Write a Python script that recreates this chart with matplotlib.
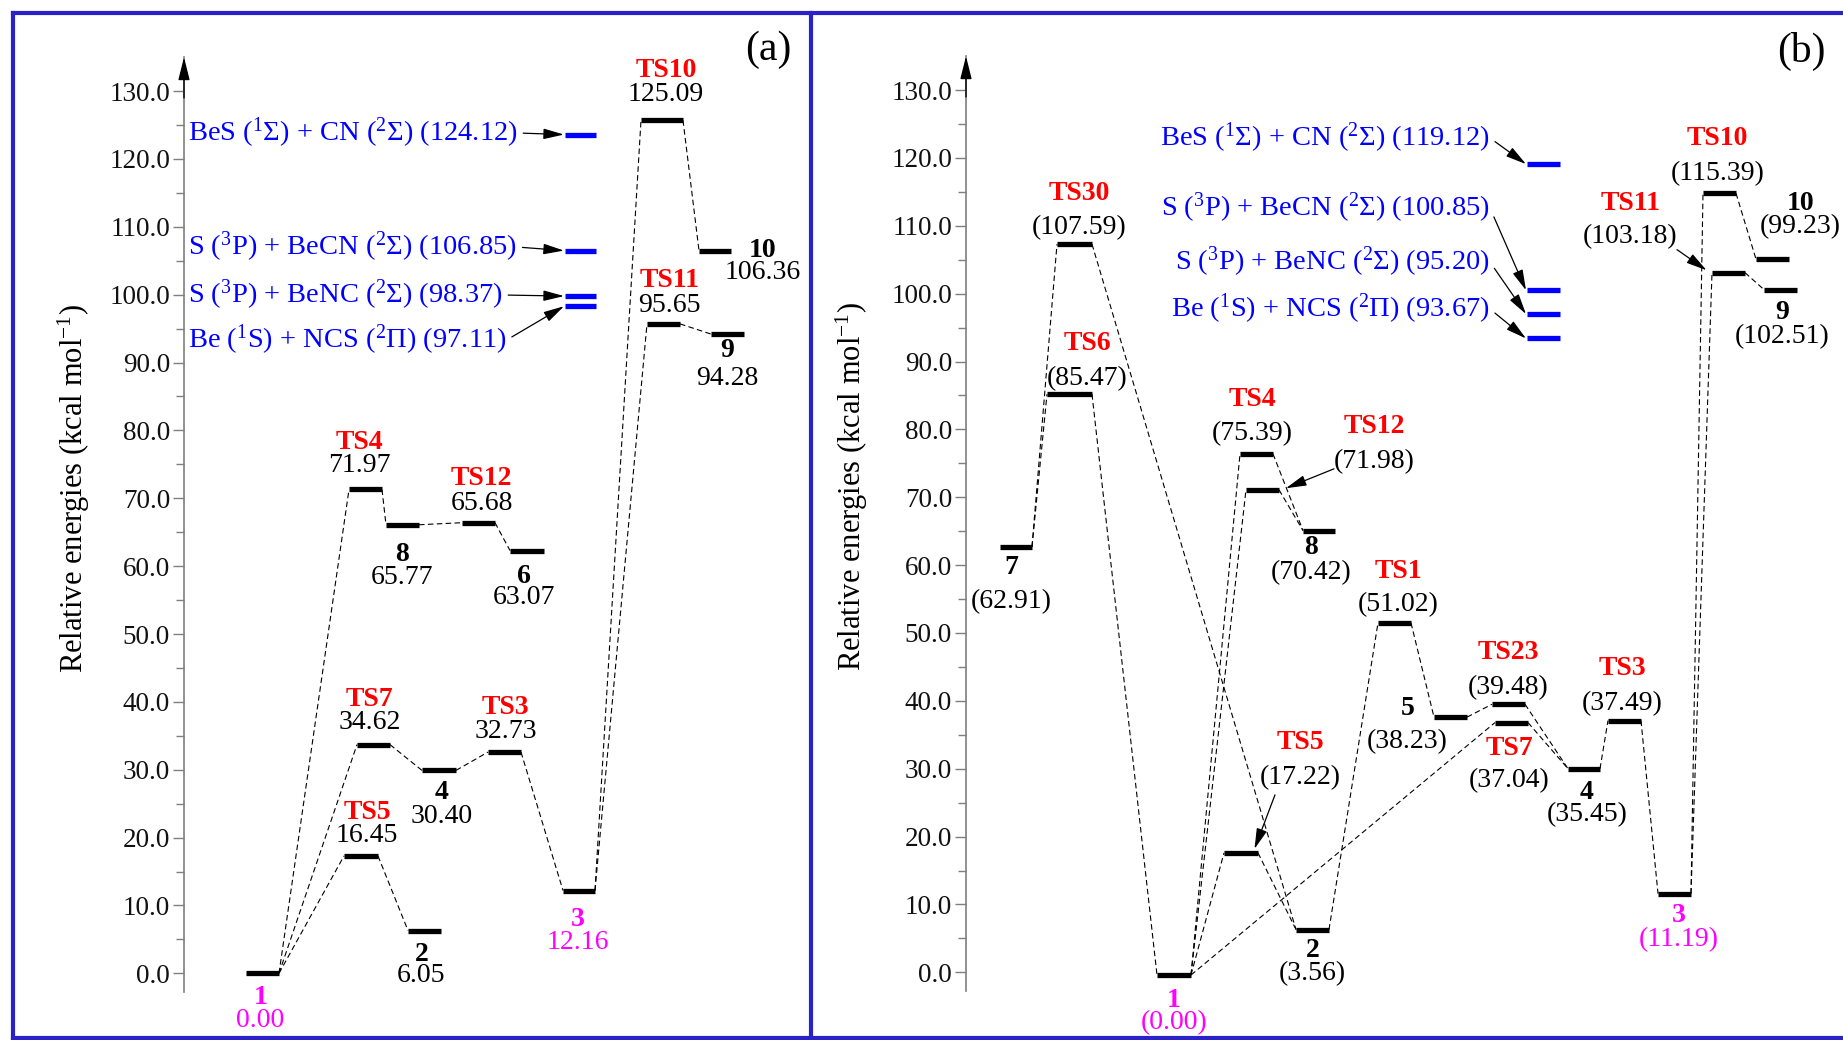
import numpy as np
import matplotlib
matplotlib.use('Agg')
import matplotlib.pyplot as plt
from matplotlib.lines import Line2D

FONTE = 'Liberation Serif'
plt.rcParams['font.family'] = 'serif'
plt.rcParams['font.serif'] = [FONTE, 'DejaVu Serif']
plt.rcParams['mathtext.fontset'] = 'custom'
plt.rcParams['mathtext.rm'] = FONTE
plt.rcParams['mathtext.it'] = FONTE + ':italic'
plt.rcParams['mathtext.bf'] = FONTE + ':bold'

# ---------------- dados: painel (a) ----------------
nomes_a = ['1', 'TS5', 'TS7', '2', '4', 'TS3', '3', 'TS4', '8', 'TS12', '6',
           'TS10', '10', 'TS11', '9']
niveis_a = [0.0, 17.3, 33.7, 6.3, 29.9, 32.6, 12.2, 71.3, 66.1, 66.4, 62.3,
            125.7, 106.5, 95.7, 94.2]
rotulos_a = ['0.00', '16.45', '34.62', '6.05', '30.40', '32.73', '12.16', '71.97',
             '65.77', '65.68', '63.07', '125.09', '106.36', '95.65', '94.28']
ligacoes_a = [('1', 'TS5'), ('1', 'TS7'), ('1', 'TS4'), ('TS5', '2'), ('TS7', '4'),
              ('4', 'TS3'), ('TS3', '3'), ('TS4', '8'), ('8', 'TS12'), ('TS12', '6'),
              ('3', 'TS10'), ('3', 'TS11'), ('TS10', '10'), ('TS11', '9')]
produtos_a = [r'BeS ($^1\Sigma$) + CN ($^2\Sigma$) (124.12)',
              r'S ($^3$P) + BeCN ($^2\Sigma$) (106.85)',
              r'S ($^3$P) + BeNC ($^2\Sigma$) (98.37)',
              r'Be ($^1$S) + NCS ($^2\Pi$) (97.11)']
niveis_prod_a = [123.6, 106.5, 99.8, 98.3]

# ---------------- dados: painel (b) ----------------
nomes_b = ['7', 'TS30', 'TS6', '1', 'TS5', '2', 'TS4', 'TS12', '8', 'TS1', '5',
           'TS23', 'TS7', '4', 'TS3', '3', 'TS11', 'TS10', '10', '9']
niveis_b = [62.7, 107.3, 85.2, -0.4, 17.6, 6.3, 76.4, 71.1, 65.1, 51.5, 37.6,
            39.5, 36.8, 30.0, 37.1, 11.6, 103.1, 114.8, 105.1, 100.6]
rotulos_b = ['(62.91)', '(107.59)', '(85.47)', '(0.00)', '(17.22)', '(3.56)',
             '(75.39)', '(71.98)', '(70.42)', '(51.02)', '(38.23)', '(39.48)',
             '(37.04)', '(35.45)', '(37.49)', '(11.19)', '(103.18)', '(115.39)',
             '(99.23)', '(102.51)']
ligacoes_b = [('7', 'TS30'), ('7', 'TS6'), ('TS30', '2'), ('TS6', '1'), ('1', 'TS4'),
              ('1', 'TS12'), ('1', 'TS5'), ('1', 'TS7'), ('TS5', '2'), ('TS4', '8'),
              ('TS12', '8'), ('2', 'TS1'), ('TS1', '5'), ('5', 'TS23'), ('TS23', '4'),
              ('TS7', '4'), ('4', 'TS3'), ('TS3', '3'), ('3', 'TS11'), ('3', 'TS10'),
              ('TS10', '10'), ('TS11', '9')]
produtos_b = [r'BeS ($^1\Sigma$) + CN ($^2\Sigma$) (119.12)',
              r'S ($^3$P) + BeCN ($^2\Sigma$) (100.85)',
              r'S ($^3$P) + BeNC ($^2\Sigma$) (95.20)',
              r'Be ($^1$S) + NCS ($^2\Pi$) (93.67)']
niveis_prod_b = [119.1, 100.5, 97.0, 93.4]

# ---------------- layout (pixels) ----------------
W, H = 1843, 1040
ESC = 6.786           # pixels por kcal/mol
AZUL_MOLDURA = '#2a22c8'

x_esq_a = [246, 344, 357, 408, 422, 488, 563, 349, 386, 462, 510, 641, 699, 647, 711]
x_dir_a = [279, 378, 390, 441, 456, 521, 595, 382, 419, 495, 544, 683, 731, 680, 744]
# (dx, dy nome, dy valor) em pixels, positivo para baixo
pos_rot_a = {'1': (-2, 24, 47), 'TS5': (6, -43, -20), 'TS7': (-4, -45, -22),
             '2': (-3, 24, 45), '4': (3, 22, 46), 'TS3': (1, -45, -21),
             '3': (-1, 29, 52), 'TS4': (-6, -47, -24), '8': (0, 30, 53),
             'TS12': (3, -44, -19), '6': (-3, 26, 47), 'TS10': (4, -50, -26),
             'TS11': (6, -43, -18), '10': (48, 0, 22), '9': (0, 16, 44)}
prod_x_a = (565, 596)
prod_txt_a = [133, 247, 295, 340]      # y (px) dos textos

x_esq_b = [1000, 1057, 1047, 1157, 1224, 1296, 1240, 1246, 1303, 1378, 1434,
           1492, 1495, 1568, 1608, 1658, 1712, 1703, 1756, 1764]
x_dir_b = [1032, 1092, 1092, 1191, 1258, 1329, 1273, 1279, 1335, 1411, 1467,
           1525, 1528, 1600, 1641, 1691, 1745, 1736, 1789, 1797]
pos_rot_b = {'7': (-5, 21, 55), 'TS30': (5, -51, -17), 'TS6': (18, -51, -16),
             '1': (0, 25, 48), 'TS5': (59, -110, -75), '2': (0, 21, 44),
             'TS4': (-4, -54, -20), 'TS12': (112, -63, -28), '8': (-8, 17, 42),
             'TS1': (4, -51, -18), '5': (-43, -9, 24), 'TS23': (0, -52, -17),
             'TS7': (-2, 26, 58), '4': (3, 24, 46), 'TS3': (-2, -52, -17),
             '3': (4, 22, 46), 'TS11': (-98, -69, -36), 'TS10': (-2, -55, -20),
             '10': (28, -56, -32), '9': (2, 23, 47)}
# setas das legendas: ponta x, deslocamento do inicio (px, positivo para cima)
setas_b = {'TS5': (1253, 22, 58), 'TS12': (1282, 52, 21), 'TS11': (1710, -33, 23)}
prod_x_b = (1527, 1560)
prod_txt_b = [138, 208, 262, 309]


def cria_eixo(fig, x_eixo, x_fim, y0):
    e_min, e_max = -2.7, 135
    topo = y0 - ESC * e_max
    base = y0 - ESC * e_min
    ax = fig.add_axes([x_eixo / W, 1 - base / H, (x_fim - x_eixo) / W, (base - topo) / H])
    ax.set_xlim(x_eixo, x_fim)
    ax.set_ylim(e_min, e_max)
    ax.patch.set_visible(False)
    for s in ['top', 'right', 'bottom']:
        ax.spines[s].set_visible(False)
    ax.spines['left'].set_color('#7f7f7f')
    ax.spines['left'].set_linewidth(1.2)
    ax.set_xticks([])
    ax.set_yticks(np.arange(0, 131, 10))
    ax.set_yticklabels([f'{v:.1f}' for v in np.arange(0, 131, 10)], fontsize=19.5,
                       fontfamily=FONTE, color='#111111')
    ax.set_yticks(np.arange(5, 130, 10), minor=True)
    ax.tick_params(axis='y', which='major', length=8, width=1, color='#7f7f7f', pad=2)
    ax.tick_params(axis='y', which='minor', length=6, width=1, color='#7f7f7f')
    ax.annotate('', xy=(x_eixo, e_max), xytext=(x_eixo, e_max - 6),
                arrowprops=dict(arrowstyle='-|>,head_length=1.0,head_width=0.25',
                                color='black', lw=1.0, mutation_scale=14,
                                shrinkA=0, shrinkB=0))
    ax.set_ylabel('Relative energies (kcal mol$^{-1}$)', fontsize=22, fontfamily=FONTE)
    return ax, base, topo


def desenha_painel(ax, nomes, niveis, rotulos, xe, xd, pos_rot, ligacoes, setas):
    idx = {n: i for i, n in enumerate(nomes)}
    # linhas tracejadas
    for a, b in ligacoes:
        i, j = idx[a], idx[b]
        if (xe[i] + xd[i]) > (xe[j] + xd[j]):
            i, j = j, i
        ax.plot([xd[i], xe[j]], [niveis[i], niveis[j]], ls=(0, (5, 3)), lw=0.8,
                color='black', zorder=1)
    # niveis
    ax.hlines(niveis, xe, xd, colors='black', lw=3.8, zorder=3)
    # rotulos
    for i, n in enumerate(nomes):
        cx = (xe[i] + xd[i]) / 2
        dx, dyn, dyv = pos_rot[n]
        if n.startswith('TS'):
            cor_n, cor_v = 'red', 'black'
        elif n in ('1', '3'):
            cor_n, cor_v = '#ff00ff', '#ff00ff'
        else:
            cor_n, cor_v = 'black', 'black'
        ax.annotate(n, xy=(cx, niveis[i]), xytext=(dx, -dyn), textcoords='offset pixels',
                    ha='center', va='center', fontsize=20, fontweight='bold',
                    color=cor_n, fontfamily=FONTE)
        ax.annotate(rotulos[i], xy=(cx, niveis[i]), xytext=(dx, -dyv),
                    textcoords='offset pixels', ha='center', va='center',
                    fontsize=20, color=cor_v, fontfamily=FONTE)
    for n, (xp, sx, sy) in setas.items():
        i = idx[n]
        ax.annotate('', xy=(xp, niveis[i]), xytext=(sx, sy), textcoords='offset pixels',
                    arrowprops=dict(arrowstyle='-|>,head_length=0.7,head_width=0.18',
                                    color='black', lw=0.9, mutation_scale=18,
                                    shrinkA=0, shrinkB=3))


def desenha_produtos(ax, textos, niveis, xb, ytxt, y0, x_txt, ha):
    ax.hlines(niveis, xb[0], xb[1], colors='#0000ff', lw=3.8, zorder=3)
    for t, nv, yt in zip(textos, niveis, ytxt):
        ey = (y0 - yt) / ESC
        ax.annotate(t, xy=(xb[0] - 1, nv), xytext=(x_txt, ey), textcoords='data',
                    ha=ha, va='center', fontsize=20.5, color='#0000ff', fontfamily=FONTE,
                    arrowprops=dict(arrowstyle='-|>,head_length=0.7,head_width=0.18',
                                    color='black', lw=0.9, mutation_scale=18,
                                    relpos=(1, 0.5), shrinkA=2, shrinkB=0))


fig = plt.figure(figsize=(W / 100, H / 100), dpi=100)

# painel (a)
Y0_A = 973.3
ax_a, base_a, topo_a = cria_eixo(fig, 184, 808, Y0_A)
ax_a.yaxis.set_label_coords((92 - 184) / (808 - 184), (base_a - 489) / (base_a - topo_a))
desenha_painel(ax_a, nomes_a, niveis_a, rotulos_a, x_esq_a, x_dir_a, pos_rot_a,
               ligacoes_a, {})
desenha_produtos(ax_a, produtos_a, niveis_prod_a, prod_x_a, prod_txt_a, Y0_A, 188, 'left')
fig.text(768 / W, 1 - 50 / H, '(a)', fontsize=30, ha='center', va='center', fontfamily=FONTE)

# painel (b)
Y0_B = 972.3
ax_b, base_b, topo_b = cria_eixo(fig, 966, 1843, Y0_B)
ax_b.yaxis.set_label_coords((870 - 966) / (1843 - 966), (base_b - 487) / (base_b - topo_b))
desenha_painel(ax_b, nomes_b, niveis_b, rotulos_b, x_esq_b, x_dir_b, pos_rot_b,
               ligacoes_b, setas_b)
desenha_produtos(ax_b, produtos_b, niveis_prod_b, prod_x_b, prod_txt_b, Y0_B, 1490, 'right')
fig.text(1801 / W, 1 - 51 / H, '(b)', fontsize=30, ha='center', va='center', fontfamily=FONTE)


# moldura azul
def linha(x0, y0, x1, y1):
    fig.add_artist(Line2D([x0 / W, x1 / W], [1 - y0 / H, 1 - y1 / H],
                          transform=fig.transFigure, color=AZUL_MOLDURA, lw=3.0))


linha(13, 13, W, 13)
linha(13, 13, 13, 1038)
linha(13, 1038, W, 1038)
linha(811, 13, 811, 1038)

fig.savefig('out.png', dpi=100)
